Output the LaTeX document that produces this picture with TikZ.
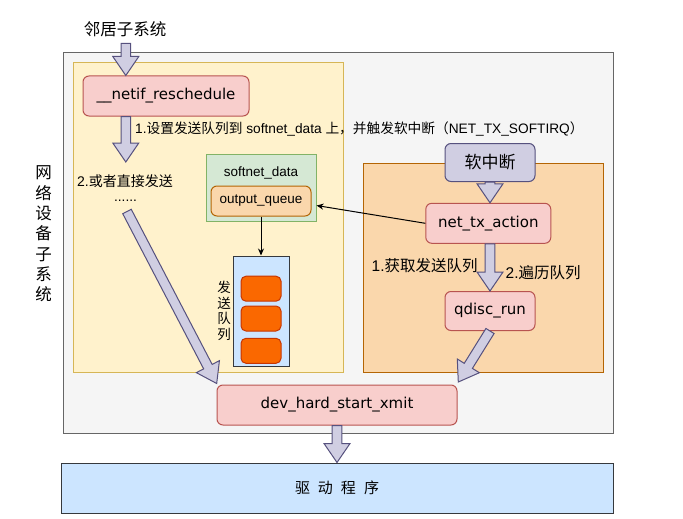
\documentclass[tikz,border=0pt]{standalone}
\usepackage{fontspec}
\setmainfont{Liberation Sans}
\newfontfamily\cjk{Noto Sans CJK SC}
\newfontfamily\codefont{DejaVu Sans}
\usepackage{xcolor}
\usepackage{tikz}
\usetikzlibrary{positioning,arrows.meta,calc}

\definecolor{grayfill}{HTML}{F5F5F5}
\definecolor{grayline}{HTML}{666666}
\definecolor{yelfill}{HTML}{FFF2CC}
\definecolor{yelline}{HTML}{D6B656}
\definecolor{redfill}{HTML}{F8CECC}
\definecolor{redline}{HTML}{B85450}
\definecolor{grnfill}{HTML}{D5E8D4}
\definecolor{grnline}{HTML}{82B366}
\definecolor{orgfill}{HTML}{FAD7AC}
\definecolor{orgline}{HTML}{B46504}
\definecolor{bluefill}{HTML}{CCE5FF}
\definecolor{blueline}{HTML}{36393D}
\definecolor{itemfill}{HTML}{FA6800}
\definecolor{itemline}{HTML}{C73500}
\definecolor{purfill}{HTML}{D0CEE2}
\definecolor{purline}{HTML}{56517E}

% wide arrow drawn as a polygon from #1 to #2
\newcommand\blockarrow[2]{%
  \draw[blockarr] let \p1=(#1), \p2=(#2),
      \n1={atan2(\y2-\y1,\x2-\x1)}, \n2={veclen(\x2-\x1,\y2-\y1)-19pt},
      \n3={\n2+19pt} in
    [shift={(\p1)}, rotate=\n1]
    (0pt,-4.8pt) -- (\n2,-4.8pt) -- (\n2,-13pt) -- (\n3,0pt)
    -- (\n2,13pt) -- (\n2,4.8pt) -- (0pt,4.8pt) -- cycle;}

\begin{document}
\begin{tikzpicture}[x=1pt,y=-1pt,
    cbox/.style={draw,line width=1pt,inner sep=0pt},
    func/.style={cbox,rounded corners=6pt,fill=redfill,draw=redline,
      font=\codefont\fontsize{15}{18}\selectfont},
    lab/.style={inner sep=0pt,font=\fontsize{13.7}{16}\selectfont},
    blockarr/.style={fill=purfill,draw=purline,line width=1pt,line join=miter},
    thinarr/.style={-{Stealth[length=7pt,width=6pt]},line width=1pt}
  ]
    \useasboundingbox (0,0) rectangle (683,519);
    % containers
    \node[cbox,fill=grayfill,draw=grayline,minimum width=550pt,minimum height=380pt] (netdev) at (338,243) {};
    \node[cbox,fill=yelfill,draw=yelline,minimum width=270pt,minimum height=309pt] (netbox) at (208,217.5) {};
    \node[cbox,fill=orgfill,draw=orgline,minimum width=240pt,minimum height=209pt] (irqbox) at (483.3,268) {};
    \node[cbox,fill=bluefill,draw=blueline,minimum width=552pt,minimum height=50pt,
      font=\cjk\fontsize{15}{18}\selectfont] (driver) at (337,488)
      {\raisebox{-5pt}{驱\hspace{8pt}动\hspace{8pt}程\hspace{8pt}序}};
    % functions
    \node[func,minimum width=166pt,minimum height=40pt] (netif) at (166,96) {\_\_netif\_reschedule};
    \node[func,minimum width=125pt,minimum height=40pt] (txaction) at (488.3,223.3) {net\_tx\_action};
    \node[func,minimum width=90pt,minimum height=39pt] (qdisc) at (490,311) {qdisc\_run};
    \node[func,minimum width=240pt,minimum height=40pt] (xmit) at (337,405) {dev\_hard\_start\_xmit};
    \node[cbox,rounded corners=6pt,fill=purfill,draw=purline,minimum width=90pt,minimum height=38pt,
      font=\cjk\fontsize{17}{20}\selectfont] (softirq) at (490,162.5) {软中断};
    % softnet_data and its queue
    \node[cbox,fill=grnfill,draw=grnline,minimum width=110pt,minimum height=67pt] (softnet) at (261,187.5) {};
    \node[lab,font=\fontsize{13.5}{16}\selectfont] (snlab) at (261,173) {softnet\_data};
    \node[cbox,rounded corners=6pt,fill=orgfill,draw=orgline,minimum width=100pt,minimum height=30pt,
      font=\fontsize{13.5}{16}\selectfont] (outq) at (261,201) {output\_queue};
    \node[cbox,fill=bluefill,draw=blueline,minimum width=56pt,minimum height=110pt] (sendq) at (261,311) {};
    \foreach \y [count=\i] in {288.7,318.5,350.8}
      \node[cbox,rounded corners=5pt,fill=itemfill,draw=itemline,minimum width=40pt,minimum height=25pt] (sq\i) at (261,\y) {};
    \node[lab,left=1.5pt of sendq,align=center,font=\cjk\fontsize{13.5}{15.7}\selectfont] (sqlab) {发\\送\\队\\列};
    % texts
    \node[lab,font=\cjk\fontsize{16.5}{18}\selectfont] (neigh) at (125,29) {邻居子系统};
    \node[lab,align=center,font=\cjk\fontsize{16.5}{20.3}\selectfont] (devlab) at (43.5,234) {网\\络\\设\\备\\子\\系\\统};
    \node[lab,anchor=west] (step1) at (135,128.5)
      {1.{\cjk 设置发送队列到} softnet\_data {\cjk 上，并触发软中断（}NET\_TX\_SOFTIRQ{\cjk ）}};
    \node[lab,anchor=west,font=\fontsize{14}{16}\selectfont] (step2) at (77,181) {2.{\cjk 或者直接发送}};
    \node[lab,text height=2pt,text depth=0pt] (dots) at (125.5,200) {......};
    \node[lab,anchor=west,font=\fontsize{15.5}{18}\selectfont] (get) at (371.5,265.5) {1.{\cjk 获取发送队列}};
    \node[lab,anchor=west,font=\fontsize{15.5}{18}\selectfont] (walk) at (505.5,273) {2.{\cjk 遍历队列}};
    % wide arrows
    \coordinate (n0) at (125.8,43.3);
    \coordinate (n1) at (125.8,162);
    \coordinate (d0) at (127,211.5);
    \coordinate (d1) at (216.7,383.5);
    \coordinate (q1) at (458.3,382);
    \coordinate (qin) at (316.5,205.5);
    \blockarrow{n0}{n0 |- netif.north}
    \blockarrow{n1 |- netif.south}{n1}
    \blockarrow{d0}{d1}
    \blockarrow{softirq.south}{softirq.south |- txaction.north}
    \blockarrow{qdisc.north |- txaction.south}{qdisc.north}
    \blockarrow{qdisc.south}{q1}
    \blockarrow{xmit.south}{xmit.south |- driver.north}
    % thin arrows
    \draw[thinarr] (outq.south) -- (sendq.north);
    \draw[thinarr] (txaction.west) -- (qin);
\end{tikzpicture}
\end{document}
